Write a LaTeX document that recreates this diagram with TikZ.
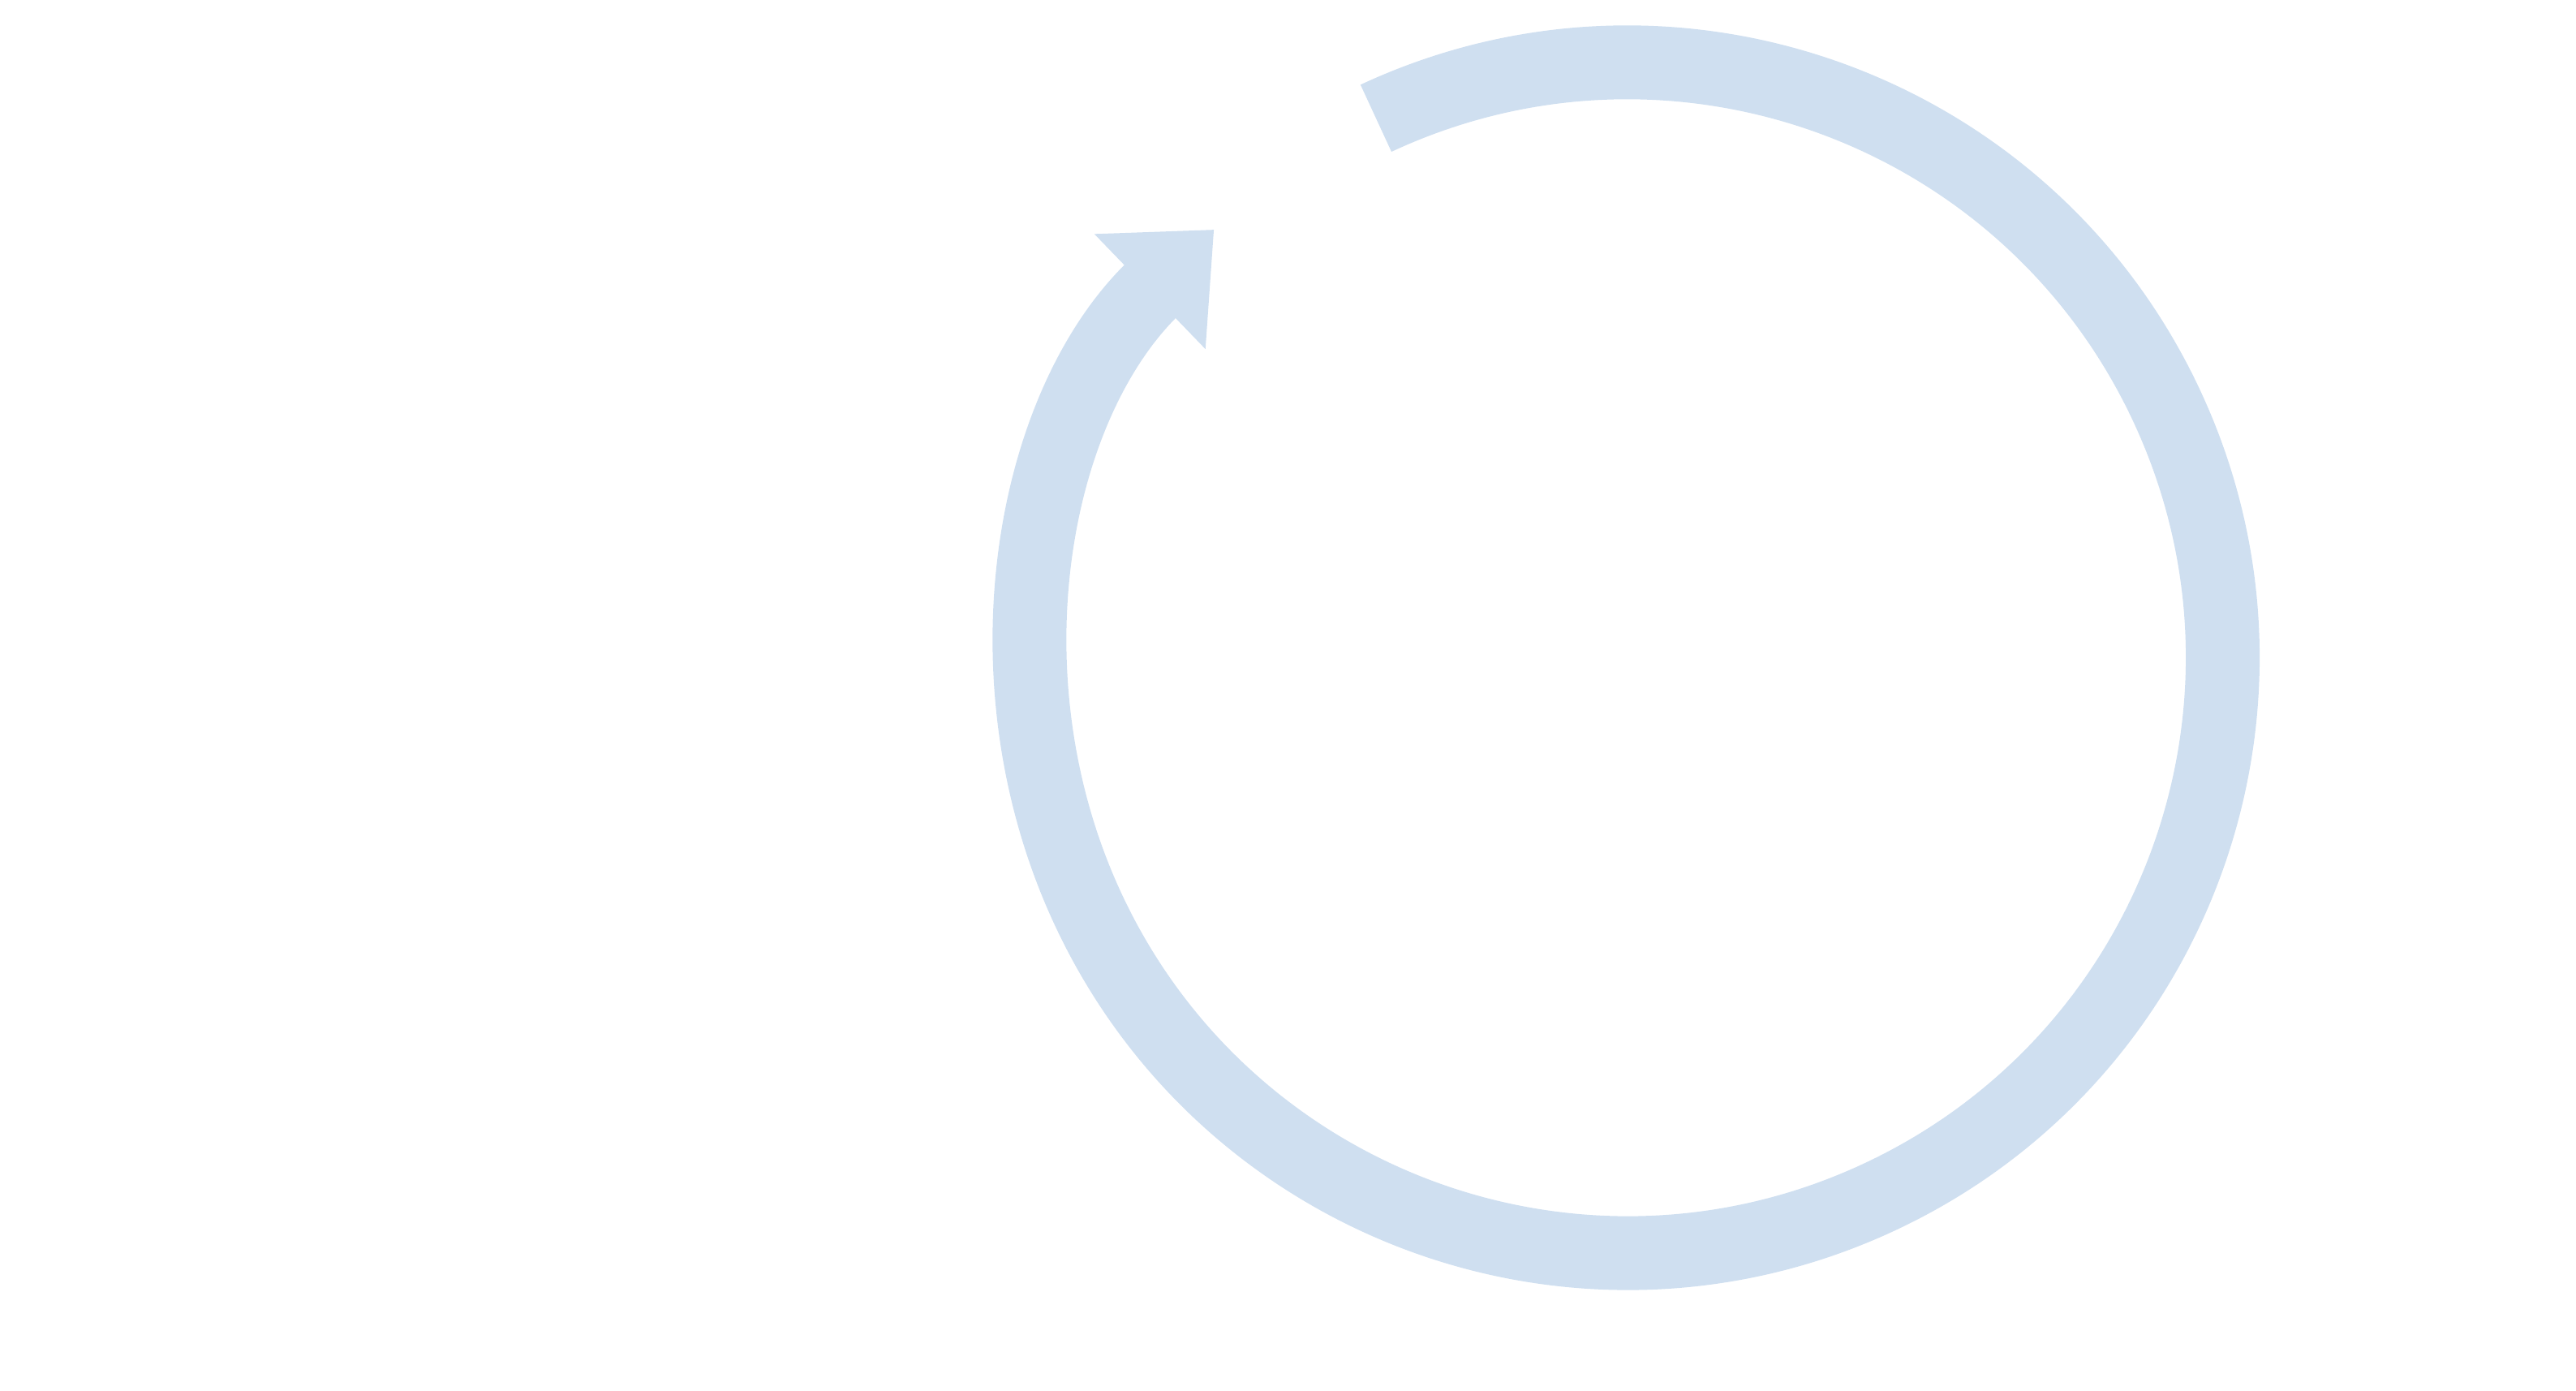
\documentclass[tikz,border=0pt]{standalone}
\usetikzlibrary{arrows.meta}
\begin{document}
\begin{tikzpicture}[x=0.02026cm,y=-0.02026cm,
 box/.style={rounded corners=0.6cm,draw=none},
 lbl/.style={font=\fontsize{28}{38}\selectfont,align=center,text=black}]
\useasboundingbox (0,0) rectangle (1567,845.5);
\definecolor{ring}{HTML}{CFDFF0}
% ring
\coordinate (c) at (990,400);
\draw[ring,line width=0.91cm,-{Triangle[width=1.9cm,length=1.1cm]}]
  ([shift={(-115:362)}]c) arc[start angle=-115,end angle=226,radius=362];
% boxes
\newcommand{\mybox}[7]{%
 \shade[box,top color=#5,bottom color=#6] (#1) rectangle (#2);
 \node[lbl] (#7) at ($(#1)!0.5!(#2)$) {#3};}
\end{tikzpicture}
\end{document}
